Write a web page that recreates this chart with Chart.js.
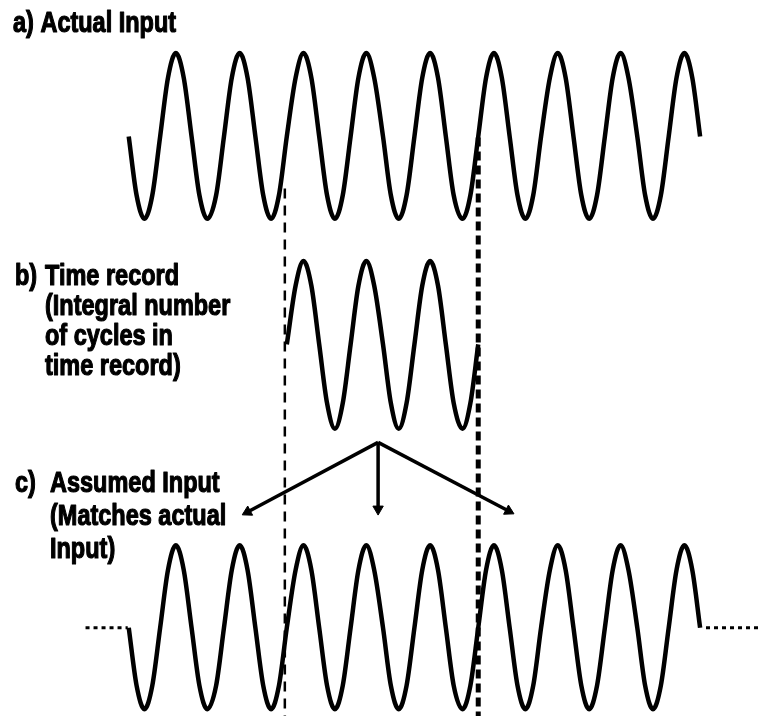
<!DOCTYPE html>
<html>
<head>
<meta charset="utf-8">
<script src="https://cdn.jsdelivr.net/npm/chart.js@4/dist/chart.umd.min.js"></script>
<style>
  html, body { margin: 0; padding: 0; background: #fff; }
  #wrap { width: 767px; height: 723px; }
</style>
</head>
<body>
<div id="wrap"><canvas id="c" width="767" height="723"></canvas></div>
<script>
// ---- data (pixel-space units) ----
// sample positions along the time axis (every 1/8 cycle)
const waveX = [124,132,140,148,156,164,172,180,188,196,204,213,221,229,237,245,253,261,269,277,
  285,294,302,310,318,326,334,342,350,358,366,374,383,391,399,407,415,423,431,439,
  447,455,464,472,480,488,496,504,512,520,528,536,544,553,561,569,577,585,593,601,
  609,617,625,633,642,650,658,666,674,682,690,698,706];

// a) actual input
const actualY = [132,192,216,192,132,72,47,72, 132,192,216,192,132,72,47,72,
  132,192,216,192,132,72,47,72, 132,192,216,192,132,72,47,72,
  132,192,216,192,132,72,47,72, 132,192,216,192,132,72,47,72,
  132,192,216,192,132,72,47,72, 132,192,216,192,132,72,47,72,
  132,192,216,192,132,72,47,72, 132];

// b) time record (three whole cycles)
const recordX = [285,294,302,310,318,326,334,342,350,358,366,374,383,391,399,407,415,423,431,439,
  447,455,464,472,480];
const recordY = [344,284,259,284,344,404,430,404, 344,284,259,284,344,404,430,404,
  344,284,259,284,344,404,430,404, 344];

// c) assumed input
const assumedY = [633,692,716,692,633,574,549,574, 633,692,716,692,633,574,549,574,
  633,692,716,692,633,574,549,574, 633,692,716,692,633,574,549,574,
  633,692,716,692,633,574,549,574, 633,692,716,692,633,574,549,574,
  633,692,716,692,633,574,549,574, 633,692,716,692,633,574,549,574,
  633,692,716,692,633,574,549,574, 633];

// dotted continuation lines of c)
const leftDotX = [80, 123], leftDotY = [633, 633];
const rightDotX = [712, 767], rightDotY = [633, 633];

// record boundaries
const startLineX = [283, 283], startLineY = [185, 723];
const endLineX = [480, 480], endLineY = [133, 723];

// arrows from the record to the assumed input
const arrowApex = [378, 444];
const arrowEnds = [[245, 515], [378, 512], [511, 514]];

// labels
const labels = [
  { t: "a) Actual Input", x: 13, y: 32 },
  { t: "b)", x: 15, y: 285 },
  { t: "Time record", x: 45, y: 285 },
  { t: "(Integral number", x: 45, y: 315 },
  { t: "of cycles in", x: 45, y: 345 },
  { t: "time record)", x: 45, y: 375 },
  { t: "c)", x: 15, y: 492 },
  { t: "Assumed Input", x: 50, y: 492 },
  { t: "(Matches actual", x: 50, y: 525 },
  { t: "Input)", x: 50, y: 558 }
];

// ---- build datasets ----
const pts = (xs, ys) => xs.map((x, i) => ({ x: x, y: ys[i] }));
const black = '#000';

function waveDs(xs, ys) {
  return { data: pts(xs, ys), borderColor: black, borderWidth: 4.5, pointRadius: 0,
           cubicInterpolationMode: 'monotone', fill: false };
}
function lineDs(xs, ys, w, dash) {
  return { data: pts(xs, ys), borderColor: black, borderWidth: w, pointRadius: 0,
           borderDash: dash, tension: 0, fill: false, borderCapStyle: 'butt' };
}
function arrowDs(end) {
  const dx = end[0] - arrowApex[0], dy = end[1] - arrowApex[1];
  const rot = Math.atan2(dx, -dy) * 180 / Math.PI;
  return { data: pts([arrowApex[0], end[0]], [arrowApex[1], end[1]]),
           borderColor: black, borderWidth: 3.5, tension: 0, fill: false,
           pointStyle: 'triangle', pointRadius: [0, 6], pointRotation: [0, rot],
           pointBackgroundColor: black, pointBorderColor: black, pointBorderWidth: 1 };
}

const datasets = [
  waveDs(waveX, actualY),
  waveDs(recordX, recordY),
  waveDs(waveX, assumedY),
  lineDs(leftDotX, leftDotY, 3, [4, 4]),
  lineDs(rightDotX, rightDotY, 3, [4, 4]),
  lineDs(startLineX, startLineY, 2.5, [10, 7]),
  lineDs(endLineX, endLineY, 5, [9, 5]),
  arrowDs(arrowEnds[0]),
  arrowDs(arrowEnds[1]),
  arrowDs(arrowEnds[2])
];

const bgPlugin = {
  id: 'bg',
  beforeDraw(chart) {
    const ctx = chart.ctx;
    ctx.save();
    ctx.fillStyle = '#fff';
    ctx.fillRect(0, 0, chart.width, chart.height);
    ctx.restore();
  }
};

const textPlugin = {
  id: 'labels',
  afterDraw(chart) {
    const ctx = chart.ctx;
    ctx.save();
    const narrow = "bold 29px 'Liberation Sans Narrow'";
    const wide = "bold 29px 'Liberation Sans', Arial, sans-serif";
    ctx.font = wide;
    const ww = ctx.measureText("a) Actual Input").width;
    ctx.font = narrow + ", monospace";
    const wn = ctx.measureText("a) Actual Input").width;
    let font = wide, sx = 0.81;
    if (wn / ww < 0.9) { font = narrow + ", sans-serif"; sx = 1; }
    ctx.font = font;
    ctx.fillStyle = black;
    ctx.strokeStyle = black;
    ctx.lineWidth = 1.2;
    ctx.lineJoin = 'round';
    ctx.textBaseline = 'alphabetic';
    ctx.textAlign = 'left';
    labels.forEach(l => {
      ctx.save();
      ctx.translate(l.x, l.y);
      ctx.scale(sx, 1);
      ctx.fillText(l.t, 0, 0);
      ctx.strokeText(l.t, 0, 0);
      ctx.restore();
    });
    ctx.restore();
  }
};

new Chart(document.getElementById('c'), {
  type: 'line',
  data: { datasets: datasets },
  options: {
    responsive: false,
    devicePixelRatio: 1,
    animation: false,
    events: [],
    layout: { padding: 0 },
    plugins: { legend: { display: false }, tooltip: { enabled: false } },
    scales: {
      x: { type: 'linear', min: 0, max: 767, display: false },
      y: { type: 'linear', min: 0, max: 723, reverse: true, display: false }
    }
  },
  plugins: [bgPlugin, textPlugin]
});
</script>
</body>
</html>
